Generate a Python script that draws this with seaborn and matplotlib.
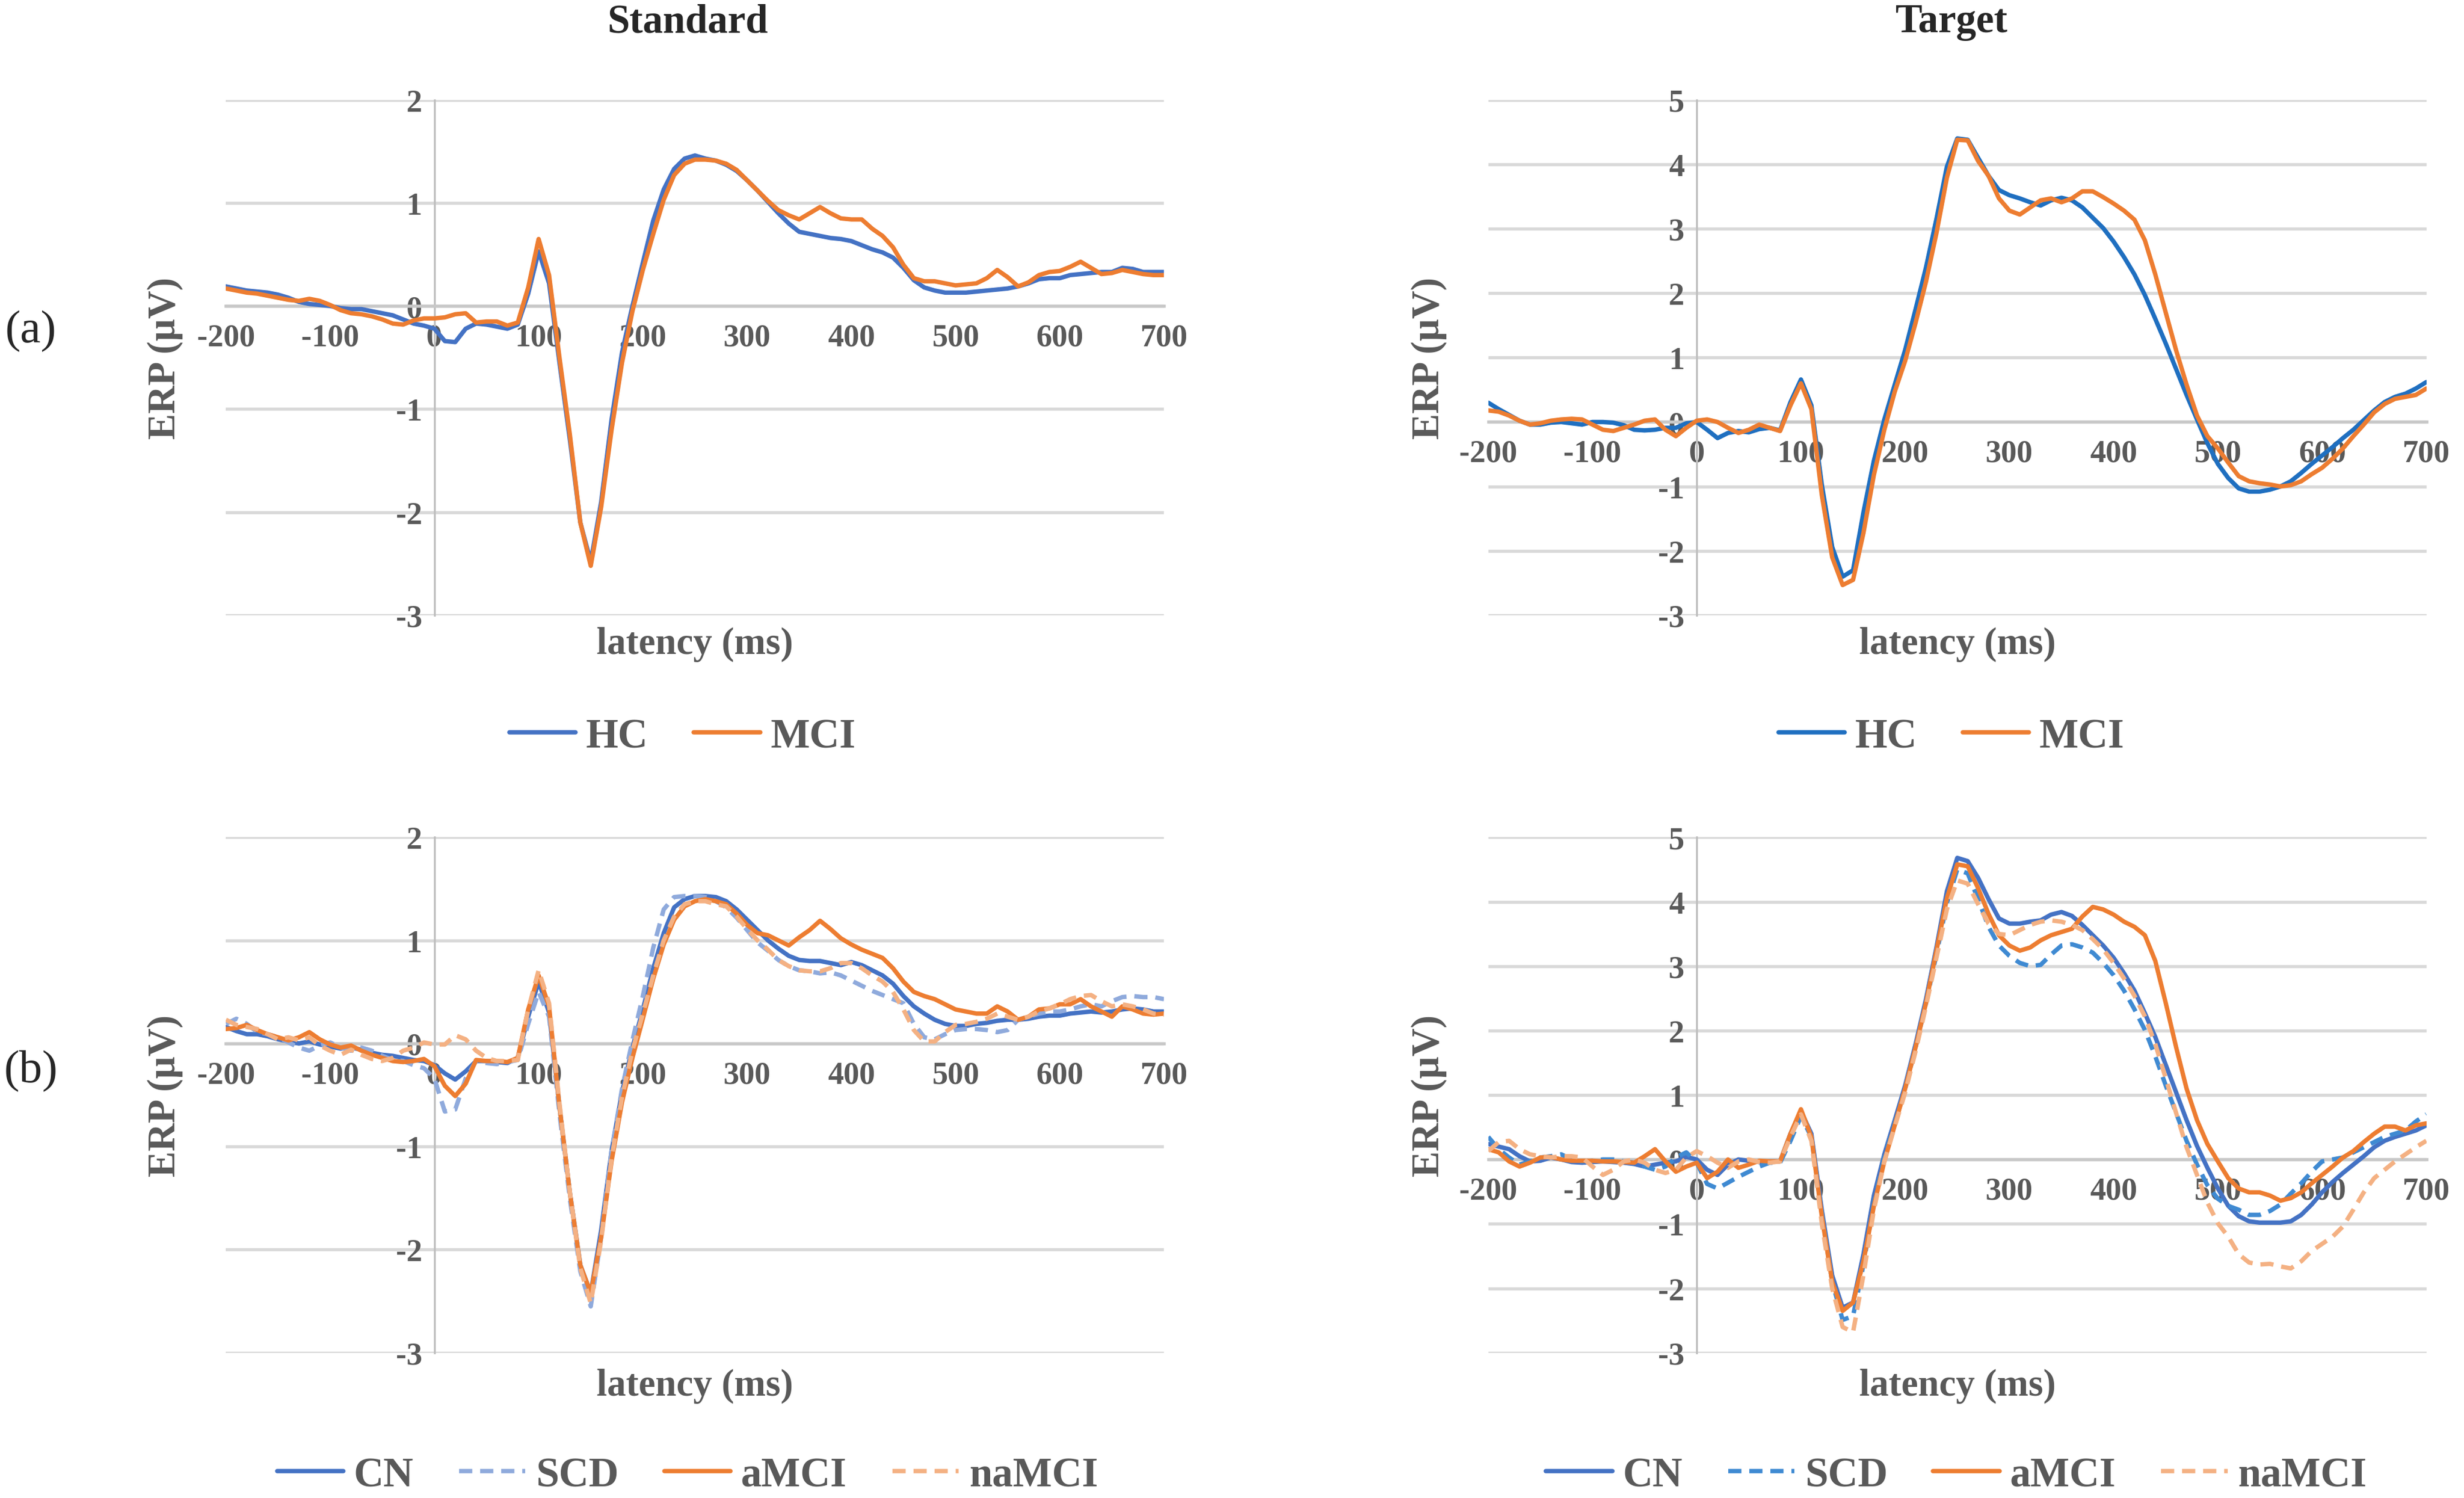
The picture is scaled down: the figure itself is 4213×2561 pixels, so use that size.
import numpy as np
import matplotlib
matplotlib.use("Agg")
import matplotlib.pyplot as plt
from matplotlib.lines import Line2D
import seaborn as sns

# latency axis (ms), one value every 10 ms
times = list(range(-200, 710, 10))

# (a) Standard: HC vs MCI
std_hc = [0.19, 0.17, 0.15, 0.14, 0.13, 0.11, 0.08, 0.04, 0.02, 0.01,
          0.00, -0.02, -0.03, -0.03, -0.05, -0.07, -0.09, -0.13, -0.17, -0.19,
          -0.22, -0.34, -0.35, -0.22, -0.17, -0.18, -0.20, -0.22, -0.18, 0.12,
          0.53, 0.22, -0.55, -1.30, -2.10, -2.48, -1.90, -1.10, -0.45, 0.00,
          0.42, 0.83, 1.13, 1.33, 1.43, 1.46, 1.43, 1.41, 1.37, 1.31,
          1.22, 1.12, 1.01, 0.90, 0.80, 0.72, 0.70, 0.68, 0.66, 0.65,
          0.63, 0.59, 0.55, 0.52, 0.47, 0.37, 0.25, 0.18, 0.15, 0.13,
          0.13, 0.13, 0.14, 0.15, 0.16, 0.17, 0.19, 0.22, 0.26, 0.27,
          0.27, 0.30, 0.31, 0.32, 0.33, 0.33, 0.37, 0.36, 0.33, 0.33,
          0.33]
std_mci = [0.17, 0.15, 0.13, 0.12, 0.10, 0.08, 0.06, 0.05, 0.07, 0.05,
           0.01, -0.04, -0.07, -0.08, -0.10, -0.13, -0.17, -0.18, -0.14, -0.12,
           -0.12, -0.11, -0.08, -0.07, -0.16, -0.15, -0.15, -0.19, -0.16, 0.18,
           0.65, 0.30, -0.50, -1.25, -2.10, -2.52, -1.95, -1.20, -0.55, -0.05,
           0.35, 0.70, 1.03, 1.27, 1.38, 1.42, 1.42, 1.41, 1.38, 1.32,
           1.22, 1.12, 1.02, 0.93, 0.88, 0.84, 0.90, 0.96, 0.90, 0.85,
           0.84, 0.84, 0.75, 0.68, 0.57, 0.40, 0.27, 0.24, 0.24, 0.22,
           0.20, 0.21, 0.22, 0.27, 0.35, 0.28, 0.19, 0.23, 0.30, 0.33,
           0.34, 0.38, 0.43, 0.37, 0.31, 0.32, 0.35, 0.33, 0.31, 0.30,
           0.30]

# (a) Target: HC vs MCI
tgt_hc = [0.30, 0.20, 0.11, 0.02, -0.04, -0.04, -0.01, 0.00, -0.02, -0.04,
          0.00, 0.00, -0.01, -0.05, -0.12, -0.13, -0.12, -0.09, -0.09, -0.02,
          0.00, -0.12, -0.25, -0.17, -0.14, -0.16, -0.11, -0.09, -0.13, 0.31,
          0.66, 0.26, -0.97, -1.94, -2.40, -2.30, -1.40, -0.60, 0.04, 0.58,
          1.12, 1.75, 2.40, 3.15, 3.96, 4.40, 4.38, 4.10, 3.82, 3.60,
          3.52, 3.47, 3.41, 3.36, 3.44, 3.48, 3.44, 3.33, 3.17, 3.01,
          2.80, 2.56, 2.29, 1.97, 1.60, 1.22, 0.82, 0.42, 0.04, -0.33,
          -0.65, -0.87, -1.03, -1.08, -1.08, -1.05, -1.00, -0.92, -0.79, -0.65,
          -0.52, -0.39, -0.25, -0.12, 0.03, 0.18, 0.31, 0.39, 0.44, 0.52,
          0.62]
tgt_mci = [0.18, 0.16, 0.10, 0.02, -0.04, -0.02, 0.02, 0.04, 0.05, 0.04,
           -0.04, -0.12, -0.14, -0.09, -0.04, 0.02, 0.04, -0.12, -0.22, -0.09,
           0.02, 0.04, 0.00, -0.09, -0.17, -0.12, -0.04, -0.09, -0.14, 0.26,
           0.60, 0.20, -1.13, -2.10, -2.53, -2.45, -1.72, -0.82, -0.12, 0.47,
           0.95, 1.54, 2.18, 2.93, 3.79, 4.38, 4.37, 4.05, 3.82, 3.47,
           3.28, 3.22, 3.33, 3.44, 3.47, 3.41, 3.47, 3.58, 3.58, 3.49,
           3.39, 3.28, 3.14, 2.82, 2.29, 1.70, 1.11, 0.58, 0.10, -0.22,
           -0.41, -0.63, -0.84, -0.92, -0.95, -0.97, -1.00, -0.98, -0.92, -0.81,
           -0.71, -0.57, -0.41, -0.22, -0.04, 0.15, 0.28, 0.36, 0.39, 0.42,
           0.52]

# (b) Standard: CN, SCD, aMCI, naMCI
std_cn = [0.16, 0.12, 0.09, 0.09, 0.07, 0.04, 0.02, 0.00, 0.02, -0.01,
          -0.03, -0.05, -0.04, -0.06, -0.09, -0.11, -0.12, -0.14, -0.16, -0.17,
          -0.21, -0.29, -0.35, -0.27, -0.17, -0.17, -0.18, -0.19, -0.14, 0.26,
          0.60, 0.30, -0.61, -1.45, -2.15, -2.42, -1.81, -1.04, -0.47, -0.04,
          0.33, 0.73, 1.07, 1.32, 1.40, 1.43, 1.43, 1.42, 1.38, 1.30,
          1.20, 1.10, 1.00, 0.92, 0.85, 0.81, 0.80, 0.80, 0.78, 0.76,
          0.79, 0.76, 0.71, 0.66, 0.58, 0.46, 0.36, 0.29, 0.23, 0.19,
          0.17, 0.17, 0.19, 0.20, 0.22, 0.23, 0.23, 0.24, 0.26, 0.27,
          0.27, 0.29, 0.30, 0.31, 0.30, 0.31, 0.33, 0.34, 0.33, 0.31,
          0.31]
std_scd = [0.19, 0.24, 0.19, 0.11, 0.09, 0.06, 0.01, -0.04, -0.07, -0.02,
           0.01, -0.04, -0.07, -0.04, -0.07, -0.12, -0.16, -0.17, -0.21, -0.24,
           -0.34, -0.66, -0.64, -0.34, -0.17, -0.19, -0.20, -0.18, -0.16, 0.19,
           0.50, 0.26, -0.68, -1.51, -2.21, -2.55, -1.88, -1.04, -0.44, 0.03,
           0.46, 0.93, 1.30, 1.42, 1.43, 1.43, 1.42, 1.38, 1.32, 1.22,
           1.10, 0.98, 0.90, 0.81, 0.75, 0.71, 0.70, 0.68, 0.69, 0.66,
           0.61, 0.56, 0.51, 0.47, 0.43, 0.39, 0.19, 0.06, 0.04, 0.09,
           0.13, 0.14, 0.14, 0.13, 0.11, 0.13, 0.23, 0.26, 0.29, 0.31,
           0.31, 0.33, 0.36, 0.38, 0.36, 0.41, 0.45, 0.46, 0.45, 0.45,
           0.43]
std_amci = [0.14, 0.15, 0.18, 0.13, 0.09, 0.06, 0.03, 0.06, 0.11, 0.04,
            -0.01, -0.04, -0.02, -0.07, -0.11, -0.14, -0.17, -0.18, -0.17, -0.15,
            -0.22, -0.41, -0.51, -0.39, -0.16, -0.17, -0.17, -0.18, -0.14, 0.33,
            0.66, 0.36, -0.61, -1.45, -2.15, -2.42, -1.88, -1.14, -0.57, -0.14,
            0.24, 0.63, 0.96, 1.20, 1.33, 1.38, 1.40, 1.38, 1.35, 1.26,
            1.15, 1.07, 1.05, 1.00, 0.95, 1.03, 1.10, 1.19, 1.11, 1.02,
            0.96, 0.91, 0.87, 0.83, 0.73, 0.60, 0.50, 0.46, 0.43, 0.38,
            0.33, 0.31, 0.29, 0.29, 0.36, 0.31, 0.23, 0.26, 0.33, 0.34,
            0.38, 0.38, 0.43, 0.36, 0.31, 0.26, 0.36, 0.33, 0.29, 0.28,
            0.29]
std_namci = [0.23, 0.18, 0.16, 0.14, 0.09, 0.04, 0.06, 0.03, 0.06, -0.02,
             -0.07, -0.11, -0.06, -0.11, -0.15, -0.17, -0.14, -0.07, -0.04, 0.01,
             -0.01, -0.01, 0.08, 0.04, -0.07, -0.14, -0.17, -0.17, -0.16, 0.33,
             0.71, 0.39, -0.58, -1.45, -2.18, -2.52, -1.91, -1.11, -0.52, -0.07,
             0.29, 0.66, 1.00, 1.23, 1.35, 1.38, 1.38, 1.35, 1.33, 1.23,
             1.11, 1.00, 0.91, 0.81, 0.75, 0.71, 0.70, 0.70, 0.73, 0.78,
             0.78, 0.73, 0.66, 0.60, 0.50, 0.33, 0.13, 0.02, 0.02, 0.11,
             0.18, 0.19, 0.21, 0.24, 0.29, 0.26, 0.23, 0.26, 0.31, 0.34,
             0.38, 0.43, 0.46, 0.47, 0.41, 0.36, 0.38, 0.36, 0.33, 0.29,
             0.28]

# (b) Target: CN, SCD, aMCI, naMCI
tgt_cn = [0.24, 0.20, 0.16, 0.05, -0.03, -0.02, 0.03, 0.00, -0.04, -0.05,
          -0.04, -0.03, -0.04, -0.05, -0.07, -0.11, -0.08, -0.05, -0.03, 0.04,
          0.00, -0.16, -0.24, -0.08, 0.00, -0.02, -0.04, -0.03, -0.03, 0.40,
          0.75, 0.40, -0.78, -1.80, -2.30, -2.22, -1.47, -0.56, 0.08, 0.61,
          1.15, 1.79, 2.49, 3.29, 4.16, 4.68, 4.63, 4.37, 4.04, 3.74,
          3.66, 3.66, 3.69, 3.71, 3.80, 3.84, 3.78, 3.64, 3.48, 3.32,
          3.13, 2.89, 2.62, 2.27, 1.90, 1.47, 1.04, 0.61, 0.21, -0.13,
          -0.45, -0.72, -0.88, -0.96, -0.98, -0.98, -0.98, -0.96, -0.86, -0.70,
          -0.51, -0.35, -0.21, -0.08, 0.05, 0.19, 0.29, 0.35, 0.40, 0.45,
          0.53]
tgt_scd = [0.35, 0.16, 0.03, -0.08, -0.03, 0.03, 0.05, 0.08, 0.00, -0.03,
           -0.02, 0.00, 0.00, -0.03, -0.05, -0.11, -0.16, -0.11, 0.03, 0.11,
           -0.05, -0.38, -0.45, -0.36, -0.27, -0.19, -0.11, -0.05, -0.05, 0.29,
           0.67, 0.35, -0.83, -1.90, -2.49, -2.43, -1.63, -0.67, 0.03, 0.56,
           1.10, 1.74, 2.43, 3.18, 3.98, 4.50, 4.44, 4.04, 3.61, 3.32,
           3.16, 3.05, 3.00, 3.02, 3.18, 3.32, 3.34, 3.29, 3.21, 3.05,
           2.86, 2.62, 2.33, 2.01, 1.60, 1.15, 0.72, 0.29, -0.08, -0.40,
           -0.61, -0.72, -0.78, -0.86, -0.86, -0.80, -0.70, -0.53, -0.37, -0.19,
           -0.03, 0.00, 0.03, 0.11, 0.19, 0.27, 0.35, 0.40, 0.45, 0.59,
           0.70]
tgt_amci = [0.16, 0.11, -0.03, -0.11, -0.05, 0.03, 0.04, 0.00, -0.02, -0.02,
            -0.02, -0.03, -0.03, -0.04, -0.05, 0.05, 0.16, -0.03, -0.19, -0.11,
            -0.05, -0.29, -0.19, 0.00, -0.13, -0.08, -0.02, -0.03, -0.03, 0.40,
            0.78, 0.35, -0.88, -1.90, -2.35, -2.22, -1.58, -0.72, -0.03, 0.53,
            1.10, 1.74, 2.43, 3.24, 4.05, 4.58, 4.55, 4.21, 3.81, 3.48,
            3.32, 3.24, 3.29, 3.40, 3.48, 3.53, 3.58, 3.77, 3.92, 3.88,
            3.80, 3.69, 3.61, 3.48, 3.08, 2.43, 1.74, 1.10, 0.61, 0.24,
            -0.03, -0.29, -0.45, -0.51, -0.51, -0.56, -0.64, -0.60, -0.51, -0.37,
            -0.24, -0.11, 0.03, 0.13, 0.27, 0.40, 0.51, 0.51, 0.45, 0.53,
            0.56]
tgt_namci = [0.13, 0.27, 0.29, 0.16, 0.08, 0.05, 0.03, 0.05, 0.05, 0.03,
             -0.11, -0.24, -0.16, -0.03, 0.00, -0.05, -0.16, -0.21, -0.16, 0.03,
             0.13, 0.05, -0.05, -0.13, -0.03, 0.00, -0.04, -0.05, -0.03, 0.35,
             0.70, 0.29, -0.99, -2.00, -2.60, -2.68, -1.79, -0.78, -0.03, 0.51,
             1.04, 1.68, 2.38, 3.13, 3.88, 4.33, 4.28, 3.96, 3.66, 3.50,
             3.48, 3.56, 3.64, 3.69, 3.71, 3.69, 3.64, 3.56, 3.42, 3.26,
             3.05, 2.81, 2.54, 2.22, 1.79, 1.26, 0.72, 0.19, -0.24, -0.67,
             -0.99, -1.20, -1.47, -1.60, -1.63, -1.62, -1.66, -1.69, -1.58, -1.42,
             -1.31, -1.20, -1.04, -0.78, -0.51, -0.29, -0.16, -0.03, 0.08, 0.19,
             0.29]

x_ticks = list(range(-200, 800, 100))
BLUE = "#4472C4"
BLUE2 = "#1F6FC0"
ORANGE = "#ED7D31"
LBLUE = "#8FAADC"
MBLUE = "#3F8AD2"
LORANGE = "#F4B183"
GRAY = "#595959"

sns.set_style("white")
plt.rcParams["font.family"] = ["Liberation Serif", "DejaVu Serif"]
plt.rcParams["axes.unicode_minus"] = False

fig = plt.figure(figsize=(4213 / 300, 2562 / 300), dpi=300)


def draw_panel(rect, series, ylo, yhi):
    ax = fig.add_axes(rect)
    for name, vals, color, dashed in series:
        sns.lineplot(x=times, y=vals, ax=ax, color=color, lw=1.8,
                     legend=False, zorder=3)
        line = ax.get_lines()[-1]
        if dashed:
            line.set_dashes((3, 1.8))
    ax.set_xlim(-200, 700)
    ax.set_ylim(ylo, yhi)
    ax.set_xticks(x_ticks)
    ax.set_yticks(range(ylo, yhi + 1))
    ax.set_xlabel("")
    ax.set_ylabel("")
    ax.yaxis.grid(True, color="#D9D9D9", lw=1.3)
    for gl in ax.get_ygridlines():
        gl.set_clip_on(False)
    ax.xaxis.grid(False)
    ax.set_axisbelow(True)
    for s in ["top", "right"]:
        ax.spines[s].set_visible(False)
    ax.spines["left"].set_position(("data", 0))
    ax.spines["bottom"].set_position(("data", 0))
    ax.spines["left"].set_color("#BFBFBF")
    ax.spines["left"].set_linewidth(0.8)
    ax.spines["bottom"].set_color("#C8C8C8")
    ax.spines["bottom"].set_linewidth(1.3)
    ax.tick_params(axis="x", length=0, pad=7, labelsize=13, labelcolor=GRAY)
    ax.tick_params(axis="y", length=0, pad=5, labelsize=13, labelcolor=GRAY)
    for lbl in ax.get_xticklabels() + ax.get_yticklabels():
        lbl.set_fontweight("bold")
    return ax


def add_legend(series, cx, cy):
    handles = []
    for name, vals, color, dashed in series:
        h = Line2D([], [], color=color, lw=1.8, label=name)
        if dashed:
            h.set_dashes((3, 1.8))
        handles.append(h)
    fig.legend(handles=handles, loc="center", bbox_to_anchor=(cx, cy),
               ncol=len(handles), frameon=False, handlelength=1.6,
               handletextpad=0.25, columnspacing=1.1, labelcolor=GRAY,
               prop={"family": "Liberation Serif", "weight": "bold", "size": 17})


a_std = [("HC", std_hc, BLUE, False), ("MCI", std_mci, ORANGE, False)]
a_tgt = [("HC", tgt_hc, BLUE2, False), ("MCI", tgt_mci, ORANGE, False)]
b_std = [("CN", std_cn, BLUE, False), ("SCD", std_scd, LBLUE, True),
         ("aMCI", std_amci, ORANGE, False), ("naMCI", std_namci, LORANGE, True)]
b_tgt = [("CN", tgt_cn, BLUE, False), ("SCD", tgt_scd, MBLUE, True),
         ("aMCI", tgt_amci, ORANGE, False), ("naMCI", tgt_namci, LORANGE, True)]

left_x, right_x, w = 0.0917, 0.604, 0.3807
top_y, bot_y, h = 0.589, 0.0969, 0.3440

draw_panel([left_x, top_y, w, h], a_std, -3, 2)
draw_panel([right_x, top_y, w, h], a_tgt, -3, 5)
draw_panel([left_x, bot_y, w, h], b_std, -3, 2)
draw_panel([right_x, bot_y, w, h], b_tgt, -3, 5)

# column titles and panel tags
fig.text(0.279, 0.985, "Standard", ha="center", va="center",
         fontsize=16.5, fontweight="bold")
fig.text(0.792, 0.985, "Target", ha="center", va="center",
         fontsize=16.5, fontweight="bold")
fig.text(0.0125, 0.779, "(a)", ha="center", va="center", fontsize=19)
fig.text(0.0125, 0.285, "(b)", ha="center", va="center", fontsize=19)

# axis labels
for cx, ycen in [(0.067, top_y + h / 2), (0.580, top_y + h / 2),
                 (0.067, bot_y + h / 2), (0.580, bot_y + h / 2)]:
    fig.text(cx, ycen, "ERP (µV)", rotation=90, ha="center", va="center",
             fontsize=16, fontweight="bold", color=GRAY)
for cx, cy in [(left_x + w / 2, 0.570), (right_x + w / 2, 0.570),
               (left_x + w / 2, 0.075), (right_x + w / 2, 0.075)]:
    fig.text(cx, cy, "latency (ms)", ha="center", va="center",
             fontsize=15.5, fontweight="bold", color=GRAY)

add_legend(a_std, 0.277, 0.508)
add_legend(a_tgt, 0.792, 0.508)
add_legend(b_std, 0.279, 0.015)
add_legend(b_tgt, 0.794, 0.015)

fig.savefig("out.png", dpi=300)
